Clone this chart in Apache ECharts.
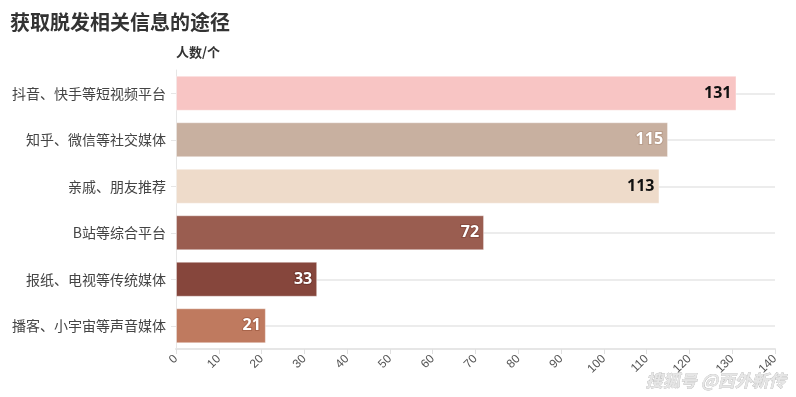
<!DOCTYPE html>
<html>
<head>
<meta charset="utf-8">
<script src="https://cdn.jsdelivr.net/npm/echarts@6/dist/echarts.min.js"></script>
<style>
  html, body { margin: 0; padding: 0; background: #fff; }
  #chart { width: 796px; height: 397px; }
</style>
</head>
<body>
<div id="chart"></div>
<script>
// data
const channels = ['抖音、快手等短视频平台', '知乎、微信等社交媒体', '亲戚、朋友推荐', 'B站等综合平台', '报纸、电视等传统媒体', '播客、小宇宙等声音媒体']
const counts = [131, 115, 113, 72, 33, 21]
const barColors = ['#f8c5c4', '#c8b0a0', '#eedbca', '#9a5d50', '#86463c', '#bf7a5f']
const labelColors = ['#111', '#fff', '#111', '#fff', '#fff', '#fff']
const labelBorders = ['#f8c5c4', '#b89c8a', '#eedbca', '#874b3f', '#6f352c', '#a8644a']

const chart = echarts.init(document.getElementById('chart'))
chart.setOption({
  animation: false,
  title: {
    text: '获取脱发相关信息的途径',
    left: 5,
    top: 7,
    textStyle: { fontSize: 20, fontWeight: 'bold', color: '#333', fontFamily: 'Noto Sans CJK SC' }
  },
  grid: { left: 176, right: 21, top: 70, bottom: 48 },
  xAxis: {
    type: 'value',
    min: 0,
    max: 140,
    interval: 10,
    axisLine: { show: true, lineStyle: { color: '#e6e6e6', width: 2 } },
    axisTick: { show: true, length: 5, lineStyle: { color: '#e0e0e0' } },
    axisLabel: { rotate: 45, color: '#555', fontSize: 12, margin: 8 },
    splitLine: { show: false }
  },
  yAxis: {
    type: 'category',
    data: channels,
    inverse: true,
    name: '人数/个',
    nameLocation: 'start',
    nameGap: 11,
    nameTextStyle: { align: 'left', fontWeight: 'bold', color: '#333', fontSize: 13, fontFamily: 'Noto Sans CJK SC' },
    axisLine: { lineStyle: { color: '#e6e6e6' } },
    axisTick: { show: true, alignWithLabel: true, length: 5, lineStyle: { color: '#e6e6e6' } },
    axisLabel: { color: '#444', fontSize: 14, margin: 10, fontFamily: 'Noto Sans CJK SC' },
    splitLine: { show: true, alignWithLabel: true, lineStyle: { color: '#ececec', width: 2 } }
  },
  series: [{
    type: 'bar',
    barWidth: 35,
    data: counts.map((v, i) => ({
      value: v,
      itemStyle: { color: barColors[i], borderColor: 'rgba(255,255,255,0.4)', borderWidth: 1 },
      label: { color: labelColors[i], textBorderColor: labelBorders[i] }
    })),
    label: {
      show: true,
      position: 'insideRight',
      distance: 5,
      fontSize: 16,
      fontWeight: 'bold',
      fontFamily: 'Open Sans',
      textBorderWidth: 2
    }
  }],
  graphic: [{
    type: 'text',
    right: 10,
    bottom: 8,
    style: {
      text: '搜狐号 @西外新传',
      fill: '#e6e6e6',
      stroke: '#aaa',
      lineWidth: 0.5,
      font: 'italic bold 17px "Noto Sans CJK SC"'
    }
  }]
})
</script>
</body>
</html>
